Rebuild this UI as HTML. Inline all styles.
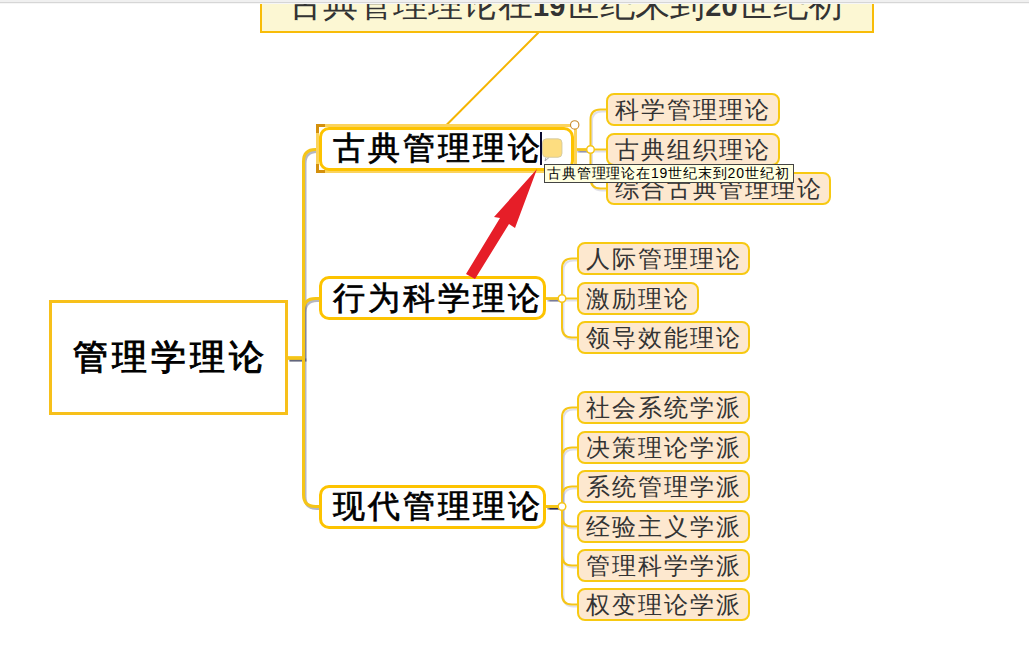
<!DOCTYPE html>
<html><head><meta charset="utf-8">
<style>
html,body{margin:0;padding:0;}
body{width:1029px;height:660px;overflow:hidden;background:#fff;position:relative;font-family:"Liberation Serif",serif;}
.abs{position:absolute;}
svg{position:absolute;left:0;top:0;}
.topbar{left:0;top:0;width:1029px;height:2px;background:#f0f0f0;z-index:10;}
.topline{left:0;top:2px;width:1029px;height:1px;background:#d6d6d6;z-index:10;}
.topline2{left:0;top:3px;width:1029px;height:1px;background:#f6f6f6;z-index:10;}
.callout{left:260px;top:-8px;width:610px;height:37px;background:#fcf7d3;border:2px solid #f8bc08;}
.ctext{left:288px;top:-15px;font-size:35px;color:#333;white-space:nowrap;line-height:40px;}
.ctext b{font-family:"Liberation Sans",sans-serif;font-size:29px;}
.node{box-sizing:border-box;display:flex;align-items:center;white-space:nowrap;}
.root{left:49px;top:300px;width:239px;height:115px;border:3px solid #f7c01a;background:#fff;justify-content:center;font-size:35px;letter-spacing:4px;text-indent:4px;font-weight:400;-webkit-text-stroke:1px #000;color:#000;}
.l1{left:319px;width:227px;height:44px;border:3px solid #fdc300;border-radius:10px;background:#fff;font-size:32px;letter-spacing:3px;font-weight:400;-webkit-text-stroke:0.7px #000;color:#000;padding-left:11px;}
.l2{height:33px;border:2px solid #f7c912;border-radius:8px;background:#fde8cf;font-size:24px;letter-spacing:2px;color:#333;padding-left:7px;}
.sel{left:316px;top:124px;width:261px;height:49px;box-sizing:border-box;border:3px solid #fbd35c;}
.tip{left:544px;top:164px;width:250px;height:19px;box-sizing:border-box;border:1px solid #444;background:#ffffe1;font-family:"Liberation Sans",sans-serif;font-size:14px;letter-spacing:0.85px;line-height:17px;padding-left:2px;color:#000;white-space:nowrap;z-index:6;}
</style></head>
<body>
<svg width="1029" height="660" viewBox="0 0 1029 660">
 <g fill="none">
  <g stroke="rgba(30,35,70,0.33)" stroke-width="3" transform="translate(1.5,2)"><path d="M288 358 H303.5 V161.5 Q303.5 149.5 315.5 149.5 H319"/><path d="M288 358 H303.5 V310.5 Q303.5 298.5 315.5 298.5 H319"/><path d="M288 358 H303.5 V494.5 Q303.5 506.5 315.5 506.5 H319"/></g>
  <g stroke="rgba(60,65,110,0.16)" stroke-width="2" transform="translate(1.5,2)"><path d="M576 149.5 H590.5 V119.5 Q590.5 109.5 600.5 109.5 H606"/><path d="M576 149.5 H606"/><path d="M576 149.5 H590.5 V178.5 Q590.5 188.5 600.5 188.5 H606"/><path d="M546 298.5 H562 V268.5 Q562 258.5 572 258.5 H577"/><path d="M546 298.5 H577"/><path d="M546 298.5 H562 V327.5 Q562 337.5 572 337.5 H577"/><path d="M546 506.5 H562 V417.5 Q562 407.5 572 407.5 H577"/><path d="M546 506.5 H562 V457.5 Q562 447.5 572 447.5 H577"/><path d="M546 506.5 H562 V496.5 Q562 486.5 572 486.5 H577"/><path d="M546 506.5 H562 V516.5 Q562 526.5 572 526.5 H577"/><path d="M546 506.5 H562 V555.5 Q562 565.5 572 565.5 H577"/><path d="M546 506.5 H562 V594.5 Q562 604.5 572 604.5 H577"/></g>
  <g stroke-width="2" transform="translate(1.5,2)"><path d="M548 506.5 H560" stroke="rgba(25,25,60,0.8)"/><path d="M548 298.5 H560" stroke="rgba(40,45,90,0.4)"/><path d="M578 149.5 H588" stroke="rgba(60,65,110,0.25)"/></g>
  <g stroke="#f5c518" stroke-width="3"><path d="M288 358 H303.5 V161.5 Q303.5 149.5 315.5 149.5 H319"/><path d="M288 358 H303.5 V310.5 Q303.5 298.5 315.5 298.5 H319"/><path d="M288 358 H303.5 V494.5 Q303.5 506.5 315.5 506.5 H319"/></g>
  <g stroke="#f5c518" stroke-width="2"><path d="M576 149.5 H590.5 V119.5 Q590.5 109.5 600.5 109.5 H606"/><path d="M576 149.5 H606"/><path d="M576 149.5 H590.5 V178.5 Q590.5 188.5 600.5 188.5 H606"/><path d="M546 298.5 H562 V268.5 Q562 258.5 572 258.5 H577"/><path d="M546 298.5 H577"/><path d="M546 298.5 H562 V327.5 Q562 337.5 572 337.5 H577"/><path d="M546 506.5 H562 V417.5 Q562 407.5 572 407.5 H577"/><path d="M546 506.5 H562 V457.5 Q562 447.5 572 447.5 H577"/><path d="M546 506.5 H562 V496.5 Q562 486.5 572 486.5 H577"/><path d="M546 506.5 H562 V516.5 Q562 526.5 572 526.5 H577"/><path d="M546 506.5 H562 V555.5 Q562 565.5 572 565.5 H577"/><path d="M546 506.5 H562 V594.5 Q562 604.5 572 604.5 H577"/></g>
  <path d="M538.5 32.5 L446.5 125" stroke="#f5b400" stroke-width="2"/>
 </g>
 <g fill="#fff" stroke="#f5c518" stroke-width="1.5">
  <circle cx="590.5" cy="149.5" r="3.8"/>
  <circle cx="562" cy="298.5" r="3.8"/>
  <circle cx="562" cy="506.5" r="3.8"/>
 </g>
</svg>
<div class="abs topbar"></div><div class="abs topline"></div><div class="abs topline2"></div>
<div class="abs callout"></div>
<div class="abs ctext">古典管理理论在<b>19</b>世纪末到<b>20</b>世纪初</div>
<div class="abs node root">管理学理论</div>
<div class="abs sel"></div>
<div class="abs node l1" style="top:127px;width:255px;">古典管理理论</div>
<div class="abs node l1" style="top:276px;padding-top:2px;">行为科学理论</div>
<div class="abs node l1" style="top:485px;">现代管理理论</div>
<svg width="1029" height="660" viewBox="0 0 1029 660">
 <g fill="#d4900c">
  <rect x="316" y="124" width="9" height="3"/><rect x="316" y="124" width="3" height="9"/>
  <rect x="316" y="170" width="9" height="3"/><rect x="316" y="164" width="3" height="9"/>
 </g>
 <circle cx="574.7" cy="124.9" r="4.2" fill="#fff" stroke="#c98a2c" stroke-width="1.1"/>
 <rect x="540" y="132" width="2" height="33" fill="#0a0a30"/>
 <path d="M546 157.5 L545 161 L549 157.5" fill="none" stroke="#a8a8a8" stroke-width="1"/>
 <rect x="542.5" y="138.8" width="19.5" height="18.5" rx="4" fill="#fddd80" stroke="#cdc5a0" stroke-width="0.8"/>
</svg>
<div class="abs node l2" style="left:606px;top:93px;width:174px;">科学管理理论</div>
<div class="abs node l2" style="left:606px;top:133px;width:174px;">古典组织理论</div>
<div class="abs node l2" style="left:606px;top:172px;width:225px;">综合古典管理理论</div>
<div class="abs node l2" style="left:577px;top:242px;width:173px;">人际管理理论</div>
<div class="abs node l2" style="left:577px;top:282px;width:122px;">激励理论</div>
<div class="abs node l2" style="left:577px;top:321px;width:173px;">领导效能理论</div>
<div class="abs node l2" style="left:577px;top:391px;width:173px;">社会系统学派</div>
<div class="abs node l2" style="left:577px;top:431px;width:173px;">决策理论学派</div>
<div class="abs node l2" style="left:577px;top:470px;width:173px;">系统管理学派</div>
<div class="abs node l2" style="left:577px;top:510px;width:173px;">经验主义学派</div>
<div class="abs node l2" style="left:577px;top:549px;width:173px;">管理科学学派</div>
<div class="abs node l2" style="left:577px;top:588px;width:173px;">权变理论学派</div>
<div class="abs tip">古典管理理论在19世纪末到20世纪初</div>
<svg width="1029" height="660" viewBox="0 0 1029 660" style="z-index:5">
 <path d="M537 169 L515 228 L509 224 L475 279 L466 274 L500 218 L494 217 Z" fill="#e61e28"/>
</svg>
</body></html>
